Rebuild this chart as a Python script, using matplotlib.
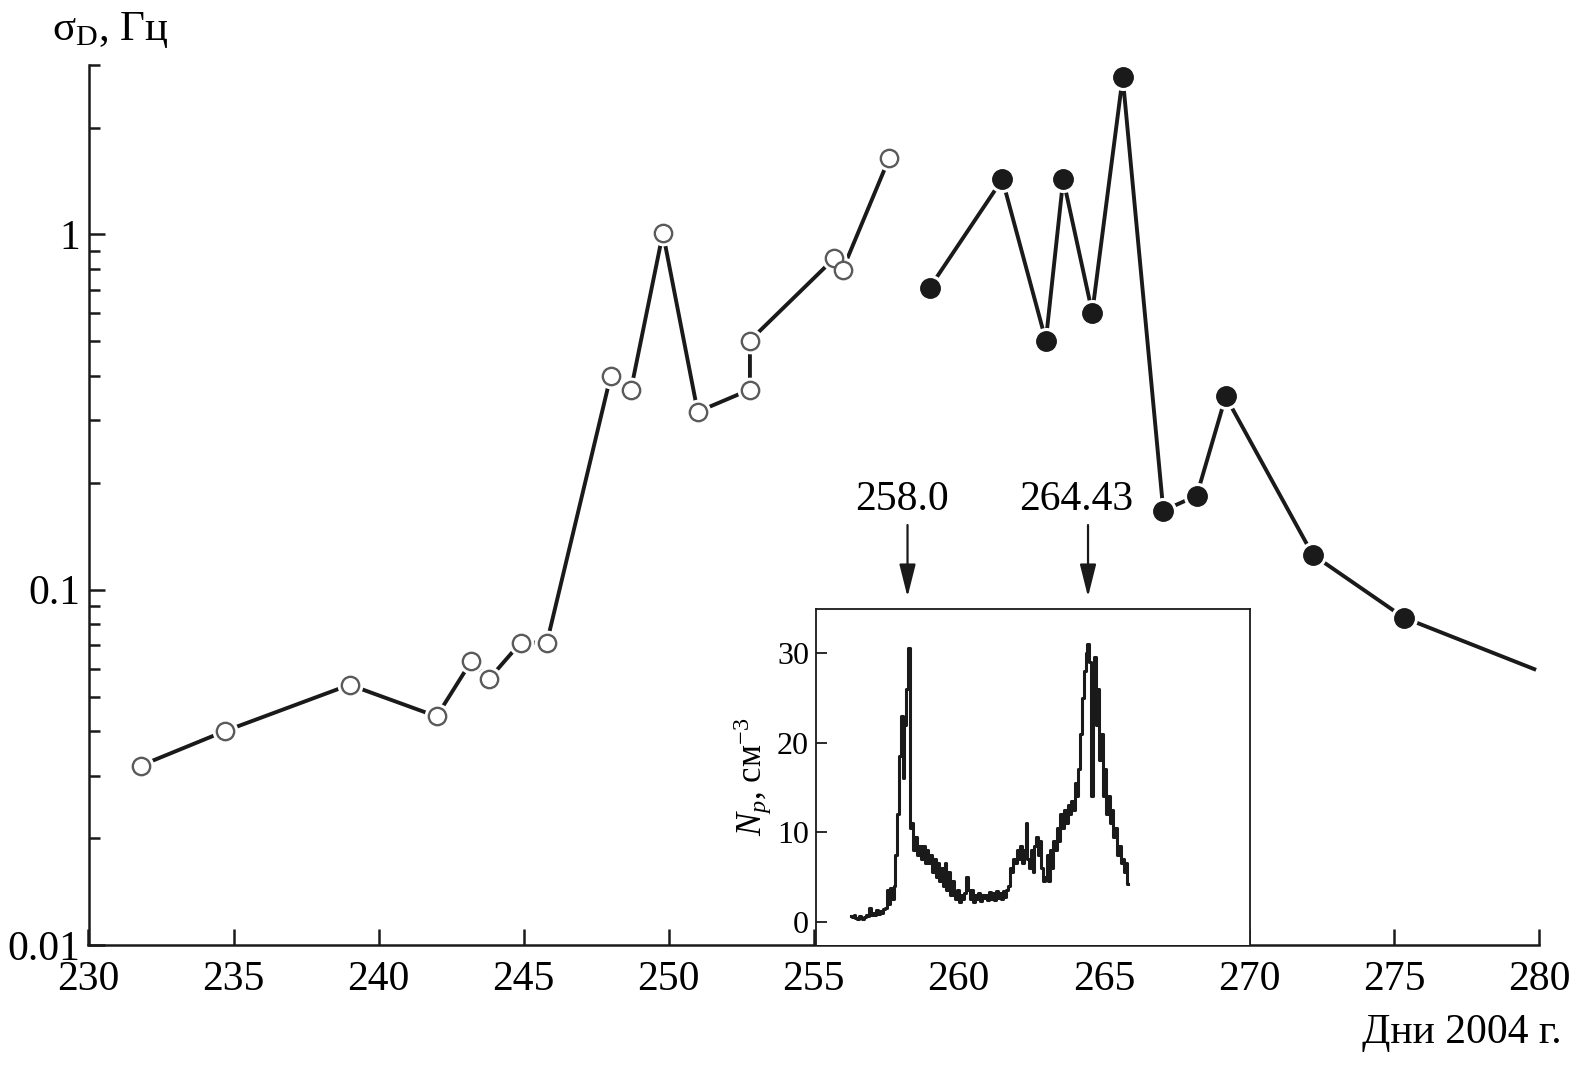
import numpy as np
import matplotlib
matplotlib.use('Agg')
import matplotlib.pyplot as plt
from matplotlib.ticker import LogLocator, FixedLocator, NullFormatter, FixedFormatter

plt.rcParams['font.family'] = ['Liberation Serif', 'DejaVu Serif']
plt.rcParams['mathtext.fontset'] = 'custom'
plt.rcParams['mathtext.rm'] = 'Liberation Serif'
plt.rcParams['mathtext.it'] = 'Liberation Serif:italic'

# --- основные данные: σD (Гц) по дням 2004 г. ---
open_days = [231.8, 234.7, 239.0, 242.0, 243.2, 243.8, 244.9, 245.8, 248.0,
             248.7, 249.8, 251.0, 252.8, 252.8, 255.7, 256.0, 257.6]
open_sigma = [0.032, 0.040, 0.054, 0.044, 0.063, 0.056, 0.071, 0.071, 0.40,
              0.366, 1.01, 0.317, 0.366, 0.503, 0.856, 0.797, 1.64]

fill_days = [259.0, 261.5, 263.0, 263.6, 264.6, 265.65, 267.05, 268.2, 269.2,
             272.2, 275.35, 279.9]
fill_sigma = [0.709, 1.43, 0.503, 1.43, 0.603, 2.77, 0.167, 0.184, 0.350,
              0.1255, 0.0834, 0.0595]

# --- вставка: Np (см^-3), отрезки (начало, конец, значения) ---
np_segments = [
    (255.99, 257.23, [0.6, 0.5, 0.7, 0.4, 0.3, 0.6, 0.4, 0.3, 0.5, 0.8,
                      0.6, 1.5, 0.7, 1.0, 0.8, 1.3, 0.9, 1.2, 1.0, 1.4]),
    (257.23, 257.54, [1.5, 3.5, 2.0, 3.8, 2.5]),
    (257.54, 258.11, [4.0, 7.5, 12.0, 18.5, 23.0, 16.0, 22.0, 26.0, 30.5]),
    (258.11, 258.78, [10.5, 11.0, 8.0, 9.5, 7.5, 8.5, 7.0, 8.5, 6.5, 8.0]),
    (258.78, 259.61, [6.5, 7.5, 5.5, 7.0, 5.0, 6.5, 4.5, 6.0, 4.0, 6.5,
                      3.5, 5.5, 3.0]),
    (259.61, 260.75, [4.5, 3.0, 2.5, 3.5, 2.2, 3.0, 2.5, 3.2, 5.0, 3.5,
                      2.5, 3.5, 2.2, 3.0, 2.5, 3.2, 2.3, 3.0]),
    (260.75, 261.68, [2.6, 3.0, 2.4, 3.3, 2.5, 3.2, 2.4, 3.4, 2.6, 3.2,
                      2.5, 3.4, 2.8, 3.5, 4.0]),
    (261.68, 262.30, [6.0, 5.5, 7.0, 6.5, 8.0, 7.0, 8.5, 6.5, 8.0, 11.0]),
    (262.30, 262.92, [7.0, 6.0, 8.0, 5.5, 8.5, 9.5, 7.5, 9.0, 6.0, 4.5]),
    (262.92, 263.54, [5.0, 7.5, 4.5, 8.0, 6.0, 9.0, 8.0, 10.5, 9.0, 12.0]),
    (263.54, 264.05, [10.5, 12.5, 11.0, 13.0, 12.0, 13.5, 12.5, 15.5]),
    (264.05, 264.57, [14.0, 17.0, 21.0, 25.0, 28.0, 30.0, 31.0, 29.0]),
    (264.57, 264.98, [14.0, 27.0, 29.5, 22.0, 26.0, 18.0, 21.0]),
    (264.98, 265.50, [14.0, 17.0, 12.0, 14.0, 11.0, 12.5, 9.5, 10.5]),
    (265.50, 265.91, [7.5, 8.5, 6.5, 7.0, 5.5, 6.5, 4.2]),
]
event_days = [258.0, 264.43]
event_labels = ['258.0', '264.43']

np_days = np.concatenate([np.linspace(a, b, len(v), endpoint=False)
                          for a, b, v in np_segments])
np_vals = np.concatenate([v for a, b, v in np_segments])

W, H = 1576, 1066
fig = plt.figure(figsize=(W / 100, H / 100), dpi=100)
ax = fig.add_axes([88.5 / W, 1 - 945 / H, (1539 - 88.5) / W, (945 - 65) / H])

lc = '#1a1a1a'
# линии
ax.plot(open_days, open_sigma, color=lc, lw=2.8, zorder=2, solid_capstyle='butt')
ax.plot(fill_days, fill_sigma, color=lc, lw=2.8, zorder=2, solid_capstyle='butt')
# белые "ореолы" вокруг маркеров (разрыв линии у точки)
ax.plot(open_days, open_sigma, 'o', ms=18.5, mfc='white', mec='none', zorder=3)
ax.plot(fill_days[:-1], fill_sigma[:-1], 'o', ms=19.5, mfc='white', mec='none', zorder=3)
# маркеры
ax.plot(open_days, open_sigma, 'o', ms=12.5, mfc='white', mec='#5a5a5a', mew=1.7, zorder=4)
ax.plot(fill_days[:-1], fill_sigma[:-1], 'o', ms=14, mfc=lc, mec=lc, zorder=4)

ax.set_yscale('log')
ax.set_xlim(230, 280)
ax.set_ylim(0.01, 3)
for s in ['top', 'right']:
    ax.spines[s].set_visible(False)
for s in ['left', 'bottom']:
    ax.spines[s].set_linewidth(1.8)
    ax.spines[s].set_color(lc)

ax.set_xticks(np.arange(230, 281, 5))
ax.yaxis.set_major_locator(FixedLocator([0.01, 0.1, 1]))
ax.yaxis.set_major_formatter(FixedFormatter(['0.01', '0.1', '1']))
ax.yaxis.set_minor_locator(LogLocator(base=10, subs=np.arange(2, 10)))
ax.yaxis.set_minor_formatter(NullFormatter())
ax.tick_params(axis='both', which='major', direction='in', length=11.5, width=1.8,
               labelsize=30, color=lc)
ax.tick_params(axis='y', which='minor', direction='in', length=8, width=1.8, color=lc)
ax.tick_params(axis='x', which='major', pad=11)
ax.tick_params(axis='y', which='major', pad=6)

fig.text(52 / W, 1 - 30 / H, 'σ$_{\\mathrm{D}}$, Гц', fontsize=31, ha='left', va='center')
fig.text(1562 / W, 1 - 1033 / H, 'Дни 2004 г.', fontsize=30, ha='right', va='center')

# --- вставка ---
axi = fig.add_axes([816 / W, 1 - 945 / H, (1250 - 816) / W, (945 - 609) / H])
axi.plot(np_days, np_vals, color=lc, lw=2.2, drawstyle='steps-mid')
axi.set_xlim(254.74, 270.2)
axi.set_ylim(-2.6, 34.9)
axi.spines['bottom'].set_visible(False)
for s in ['top', 'left', 'right']:
    axi.spines[s].set_linewidth(1.3)
    axi.spines[s].set_color(lc)
axi.set_xticks([])
axi.set_yticks([0, 10, 20, 30])
axi.tick_params(axis='y', direction='in', length=8, width=1.3, labelsize=23, pad=5, color=lc)
axi.set_ylabel('$N_p$, см$^{-3}$', fontsize=25, labelpad=2)

# сдвиг подписей стрелок влево (px)
label_shift = [-6, -12]
for d, lab, sh in zip(event_days, event_labels, label_shift):
    axi.annotate('', xy=(d, 1.036), xytext=(d, 1.25),
                 xycoords=('data', 'axes fraction'), textcoords=('data', 'axes fraction'),
                 annotation_clip=False,
                 arrowprops=dict(arrowstyle='-|>,head_length=1.0,head_width=0.25',
                                 lw=1.6, color=lc, mutation_scale=20, shrinkA=0, shrinkB=0))
    axi.annotate(lab, xy=(d, 1.325), xycoords=('data', 'axes fraction'),
                 xytext=(sh * 0.72, 0), textcoords='offset points',
                 fontsize=30, ha='center', va='center', annotation_clip=False)

fig.savefig('out.png', dpi=100)
